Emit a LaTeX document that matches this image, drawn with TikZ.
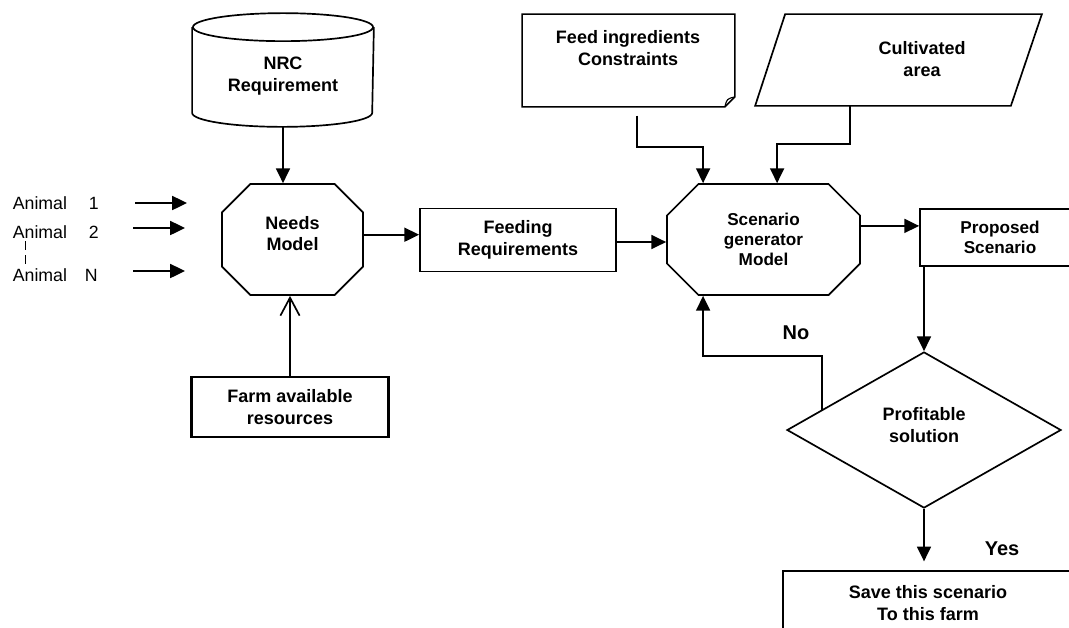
\documentclass[tikz,border=0pt]{standalone}
\usepackage{fontspec}
\setmainfont{Liberation Sans}
\usetikzlibrary{arrows.meta,calc,shapes.geometric,shapes.misc}

\begin{document}
\begin{tikzpicture}[x=0.025cm,y=-0.025cm,line width=1.2pt,>={Triangle[length=3.7mm,width=3.5mm]},
  txt/.style={font=\fontsize{12.8}{15.5}\selectfont\bfseries,align=center,inner sep=0pt},
  small/.style={font=\fontsize{12.2}{14.4}\selectfont\bfseries},
  big/.style={font=\fontsize{14.2}{17}\selectfont\bfseries},
  anim/.style={font=\fontsize{12.6}{15}\selectfont,anchor=west,inner sep=0pt},
  box/.style={draw,rectangle,txt},
  octa/.style={draw,chamfered rectangle,chamfered rectangle xsep=0.8cm,txt,minimum height=2.775cm}]
\useasboundingbox (0,0) rectangle (1069,627);
\clip (0,0) rectangle (1069,627);
% inputs on the top row
\node[txt,minimum width=4.5cm,minimum height=2.5cm] (nrc) at (283,76) {NRC\\Requirement};
\draw ([yshift=-0.05cm]nrc.north west) -- ([yshift=0.35cm]nrc.south west)
  arc[start angle=180,end angle=360,x radius=2.25cm,y radius=0.35cm] -- ([yshift=-0.05cm]nrc.north east);
\draw ([yshift=-0.05cm]nrc.north) ellipse[x radius=2.25cm,y radius=0.35cm];
\node[minimum width=5.275cm,minimum height=2.275cm,inner sep=0pt] (ingr) at (628.5,60.5) {};
\node[txt] (ingrtxt) at (628,48) {Feed ingredients\\Constraints};
\draw (ingr.north west) -- (ingr.north east) -- ([yshift=0.25cm]ingr.south east)
  -- ([xshift=-0.25cm]ingr.south east) -- (ingr.south west) -- cycle;
\draw[line width=0.8pt] ([xshift=-0.25cm]ingr.south east) .. controls ([xshift=-0.2cm,yshift=0.2cm]ingr.south east) .. ([yshift=0.25cm]ingr.south east);
\node[minimum width=7.125cm,minimum height=2.25cm,inner sep=0pt] (area) at (898.5,60) {};
\node[txt] (areatxt) at (922,59) {Cultivated\\area};
\draw ([xshift=0.75cm]area.north west) -- (area.north east) -- ([xshift=-0.775cm]area.south east) -- (area.south west) -- cycle;
% animals
\node[anim] (a1) at (12,203) {Animal\hspace{0.55cm}1};
\node[anim] (a2) at (12,232) {Animal\hspace{0.55cm}2};
\node[anim] (aN) at (12,275) {Animal\hspace{0.45cm}N};
\draw[dashed,line width=0.9pt,dash pattern=on 6pt off 4pt] ([xshift=0.33cm,yshift=-0.05cm]a2.south west) -- ([xshift=0.33cm,yshift=0.05cm]aN.north west);
\coordinate (a1tail) at (135,203);
\coordinate (a2tail) at (133,228);
\coordinate (aNtail) at (133,271);
\foreach \a in {a1,a2,aN} \draw[->] (\a tail) -- ++(1.3cm,0);
% models and boxes
\node[octa,minimum width=3.525cm,text depth=0.3cm] (needs) at (292.5,239.5) {Needs\\Model};
\node[box,minimum width=4.9cm,minimum height=1.575cm] (feedreq) at (518,240) {Feeding\\Requirements};
\node[octa,small,minimum width=4.825cm] (scen) at (763.5,239.5) {Scenario\\generator\\Model};
\node[box,small,minimum width=4cm,minimum height=1.425cm] (prop) at (1000,237.5) {Proposed\\Scenario};
\node[box,line width=1.8pt,minimum width=4.925cm,minimum height=1.5cm] (farm) at (290,407) {Farm available\\resources};
\node[draw,diamond,txt,text depth=0.25cm,minimum width=6.85cm,minimum height=3.9cm] (dec) at (924,430) {Profitable\\solution};
\node[box,minimum width=7.25cm,minimum height=1.6cm] (save) at (928,603) {Save this scenario\\To this farm};
\node[txt,big] (nolbl) at (796,333) {No};
\node[txt,big] (yeslbl) at (1002,549) {Yes};
% connectors
\draw[->] (nrc.south) -- (nrc.south |- needs.north);
\draw[-{Straight Barb[length=4.5mm,width=4.8mm]}] (farm.north) -- (farm.north |- needs.south);
\draw[->] ([yshift=0.12cm]needs.east) -- ([yshift=0.12cm]needs.east -| feedreq.west);
\draw[->] ([yshift=-0.05cm]feedreq.east) -- ([yshift=-0.05cm]feedreq.east -| scen.west);
\draw[->] ([xshift=0.21cm,yshift=-0.22cm]ingr.south) -- ++(0,-0.78cm) -| ([xshift=-1.51cm]scen.north);
\draw[->] ([xshift=2.375cm]area.south west) -- ++(0,-0.95cm) -| ([xshift=0.34cm]scen.north);
\draw[->] ([yshift=0.34cm]scen.east) -- ([yshift=0.34cm]scen.east -| prop.west);
\draw[->] (dec.north |- prop.south) -- (dec.north);
\draw[->] ($(dec.west)!0.26!(dec.north)$) |- ([xshift=-1.51cm,yshift=-1.5cm]scen.south) -- ([xshift=-1.51cm]scen.south);
\draw[->,shorten >=0.22cm] (dec.south) -- (dec.south |- save.north);
\end{tikzpicture}
\end{document}
